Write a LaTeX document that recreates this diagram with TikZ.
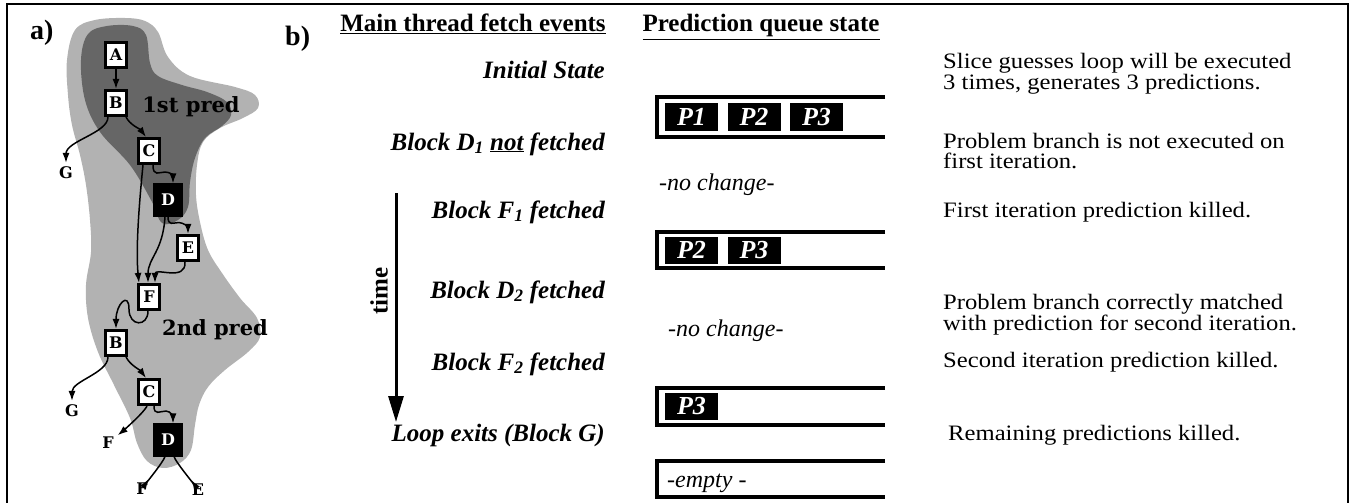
\documentclass[tikz,border=0pt]{standalone}
\usepackage{fontspec}
\setmainfont{Liberation Serif}
\newfontfamily\slab{DejaVu Serif}
\newfontfamily\notefont[FakeStretch=1.12]{Liberation Serif}
\usetikzlibrary{arrows.meta}
\definecolor{lightblob}{gray}{0.70}
\definecolor{darkblob}{gray}{0.40}
\begin{document}
\begin{tikzpicture}[x=1pt,y=-1pt,
  gbox/.style={draw, line width=2.6pt, fill=white, minimum width=21.5pt, minimum height=25.5pt, inner sep=0pt, font=\slab\bfseries\fontsize{16}{16}\selectfont},
  dbox/.style={gbox, fill=black, text=white, minimum width=26.5pt, minimum height=30.5pt},
  glab/.style={inner sep=1pt, outer sep=3pt, font=\slab\bfseries\fontsize{16}{16}\selectfont},
  blobtext/.style={font=\slab\bfseries\fontsize{21}{21}\selectfont, inner sep=0pt},
  arr/.style={line width=1.5pt, -{Latex[length=10pt,width=7pt]}},
  pbox/.style={fill=black, text=white, minimum width=53pt, minimum height=27pt, inner sep=0pt, font=\bfseries\itshape\fontsize{26}{26}\selectfont},
  queue/.style={line width=3.2pt},
  evt/.style={anchor=base east, inner sep=0pt, font=\bfseries\itshape\fontsize{25}{25}\selectfont},
  head/.style={anchor=base, inner sep=0pt, font=\bfseries\fontsize{25}{25}\selectfont},
  note/.style={anchor=base west, inner sep=0pt, font=\notefont\fontsize{22}{20}\selectfont},
  note2/.style={anchor=north west, align=left, inner sep=0pt, font=\notefont\fontsize{22}{20}\selectfont},
  qtext/.style={anchor=base west, inner sep=0pt, font=\itshape\fontsize{24}{24}\selectfont},
  panel/.style={anchor=base west, inner sep=0pt, font=\bfseries\fontsize{28}{28}\selectfont}
]
\useasboundingbox (0,0) rectangle (1353,503);
% frame
\draw[line width=2pt] (7,503) -- (7,4) -- (1348,4) -- (1348,503);

% ---------- part a ----------
\fill[lightblob] plot[smooth cycle, tension=0.6] coordinates {
 (75,30) (95,20) (125,18) (145,21) (158,32) (168,57) (190,76) (235,87) (255,95) (258,108)
 (243,118) (220,128) (203,142) (197,165) (196,195) (200,222) (208,250) (222,273) (240,298)
 (257,318) (260,337) (248,352) (225,370) (208,387) (199,405) (195,425) (191,450) (180,463)
 (163,468) (147,461) (137,443) (130,418) (114,385) (98,352) (88,318) (86,285) (91,252)
 (90,220) (86,185) (80,155) (72,125) (68,95) (67,60)};
\fill[darkblob] plot[smooth cycle, tension=0.6] coordinates {
 (88,34) (107,26) (133,26) (146,35) (150,63) (158,76) (182,85) (207,92) (227,102) (231,115)
 (222,126) (205,138) (195,158) (190,182) (188,207) (178,220) (162,223) (151,200) (130,165)
 (100,132) (85,100) (81,60)};

\node[panel] (pa) at (30,40) {a)};
\node[blobtext] (p1) at (191,107) {1st pred};
\node[blobtext] (p2) at (215,330) {2nd pred};

\node[gbox] (A) at (116,55) {A};
\node[gbox] (B1) at (116,103) {B};
\node[gbox] (C1) at (149,151) {C};
\node[dbox] (D1) at (168,200) {D};
\node[gbox] (E1) at (188,248) {E};
\node[gbox] (F1) at (149,297) {F};
\node[gbox] (B2) at (116,343) {B};
\node[gbox] (C2) at (149,392) {C};
\node[dbox] (D2) at (168,440) {D};
\node[glab] (G1) at (66,173) {G};
\node[glab] (G2) at (72,411) {G};
\node[glab] (Fa) at (108,443) {F};
\node[glab] (Fb) at (142,489) {F};
\node[glab] (Eb) at (198,490) {E};

\draw[arr] (A) -- (B1);
\draw[arr] ([xshift=-8pt]B1.south) .. controls +(0,16) and +(0,-22) .. (G1.north);
\draw[arr] ([xshift=-2pt]B1.south east) .. controls +(4,8) and +(-6,-8) .. ([xshift=-3pt]C1.north);
\draw[arr] ([xshift=4pt]C1.south) .. controls +(0,12) and +(-6,0) .. ++(12,7) .. controls +(5,0) and +(0,-8) .. ([xshift=5pt]D1.north);
\draw[arr] (D1.south) .. controls +(0,10) and +(-6,0) .. ++(11,6) .. controls +(5,0) and +(0,-6) .. (E1.north);
\draw[arr] ([xshift=-6pt]C1.south) .. controls +(-5,50) and +(-3,-30) .. ([xshift=-10pt]F1.north);
\draw[arr] ([xshift=-3pt]D1.south) .. controls +(-2,35) and +(0,-25) .. ([xshift=-1pt]F1.north);
\draw[arr] ([xshift=-3pt]E1.south) .. controls +(1,20) and +(0,-16) .. ([xshift=6pt]F1.north);
\draw[arr] ([xshift=-1pt]F1.south) .. controls +(0,16) and +(0,18) .. ++(-19,-2) .. controls +(0,-18) and +(0,-25) .. (B2.north);
\draw[arr] ([xshift=-8pt]B2.south) .. controls +(0,16) and +(0,-20) .. (G2.north);
\draw[arr] ([xshift=-2pt]B2.south east) .. controls +(4,8) and +(-6,-8) .. ([xshift=-3pt]C2.north);
\draw[arr] ([xshift=-2pt]C2.south) .. controls +(-4,8) and +(10,-8) .. (Fa);
\draw[arr] ([xshift=5pt]C2.south) .. controls +(0,10) and +(-6,0) .. ++(12,5) .. controls +(5,0) and +(0,-6) .. ([xshift=5pt]D2.north);
\draw[arr] ([xshift=-3pt]D2.south) .. controls +(-2,6) and +(4,-6) .. (Fb);
\draw[arr] ([xshift=6pt]D2.south) .. controls +(2,6) and +(-4,-6) .. (Eb);

% ---------- part b ----------
\node[panel] (pb) at (285,46) {b)};
\node[head] (h1) at (473,32) {\underline{Main thread fetch events}};
\node[head] (h2) at (761,32) {\underline{Prediction queue state}};

\node[evt] (e1) at (605,78) {Initial State};
\node[evt] (e2) at (605,150) {Block D\textsubscript{1} \underline{not} fetched};
\node[evt] (e3) at (605,218) {Block F\textsubscript{1} fetched};
\node[evt] (e4) at (605,298) {Block D\textsubscript{2} fetched};
\node[evt] (e5) at (605,370) {Block F\textsubscript{2} fetched};
\node[evt] (e6) at (605,441) {Loop exits (Block G)};

\coordinate (t0) at (396,193);
\coordinate (t1) at (396,422);
\draw[line width=3pt, -{Triangle[length=26pt,width=15pt]}] (t0) -- (t1);
\node[rotate=90, inner sep=0pt, font=\bfseries\fontsize{25}{25}\selectfont] (time) at (379,291) {time};

% queues
\draw[queue] (885,97) -- (657,97) -- (657,137) -- (885,137);
\draw[queue] (885,232) -- (657,232) -- (657,268) -- (885,268);
\draw[queue] (885,388) -- (657,388) -- (657,425) -- (885,425);
\draw[queue] (885,461) -- (657,461) -- (657,497) -- (885,497);

\node[pbox] (q1a) at (691.5,117) {P1};
\node[pbox] (q1b) at (754,117) {P2};
\node[pbox] (q1c) at (816.5,117) {P3};
\node[pbox] (q2a) at (691.5,250) {P2};
\node[pbox] (q2b) at (754,250) {P3};
\node[pbox] (q3a) at (691.5,406.5) {P3};

\node[qtext] (nc1) at (659,190) {-no change-};
\node[qtext] (nc2) at (668,336) {-no change-};
\node[qtext] (emp) at (667,487) {-empty -};

% notes
\node[note2] (n1) at (943,53) {Slice guesses loop will be executed\\3 times, generates 3 predictions.};
\node[note2] (n2) at (943,133) {Problem branch is not executed on\\first iteration.};
\node[note] (n3) at (943,217) {First iteration prediction killed.};
\node[note2] (n4) at (943,294) {Problem branch correctly matched\\with prediction for second iteration.};
\node[note] (n5) at (943,367) {Second iteration prediction killed.};
\node[note] (n6) at (948,440) {Remaining predictions killed.};
\end{tikzpicture}
\end{document}
